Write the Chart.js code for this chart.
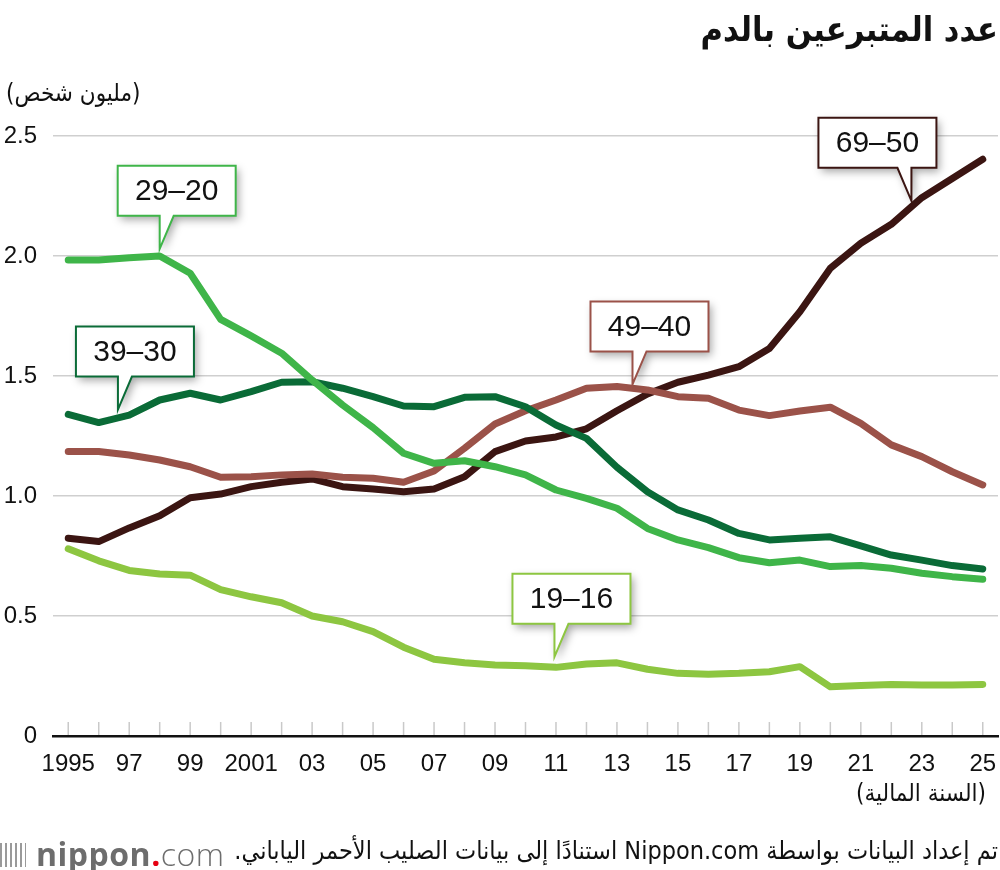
<!DOCTYPE html>
<html lang="ar">
<head>
    <meta charset="UTF-8">
    <title>عدد المتبرعين بالدم</title>
    <style>
        body {
            margin: 0;
            padding: 0;
            background: #fff;
            width: 1000px;
            height: 870px;
            position: relative;
            overflow: hidden;
            font-family: "DejaVu Sans Condensed", "DejaVu Sans", sans-serif;
            color: #111;
        }
        #chart {
            position: absolute;
            left: 0;
            top: 0;
        }
        .txt {
            position: absolute;
            white-space: nowrap;
        }
        .title {
            right: 2px;
            top: 9px;
            font-size: 34px;
            font-weight: bold;
        }
        .unit {
            left: 6px;
            top: 79px;
            font-size: 24px;
        }
        .xtitle {
            right: 14px;
            top: 779px;
            font-size: 24px;
        }
        .source {
            right: 2px;
            top: 836px;
            font-size: 25px;
        }
        .logo {
            left: 0;
            top: 832px;
            font-family: "Open Sans", "Liberation Sans", sans-serif;
            font-size: 32px;
            color: #6d6d6d;
            letter-spacing: 0.5px;
        }
        .logo b { font-weight: 700; }
        .logo .dot { color: #e60012; font-weight: 700; }
        .logo .com { font-weight: 300; }
        .bars {
            display: inline-block;
            width: 26px;
            height: 24px;
            margin-right: 10px;
            background: repeating-linear-gradient(90deg, #9a9a9a 0 2px, transparent 2px 5px);
            vertical-align: -1px;
        }
    </style>
    <script src="https://cdn.jsdelivr.net/npm/chart.js"></script>
</head>
<body>
<canvas id="chart" width="1000" height="870"></canvas>
<div class="txt title" dir="rtl">عدد المتبرعين بالدم</div>
<div class="txt unit" dir="rtl">(مليون شخص)</div>
<div class="txt xtitle" dir="rtl">(السنة المالية)</div>
<div class="txt source" dir="rtl">تم إعداد البيانات بواسطة Nippon.com استنادًا إلى بيانات الصليب الأحمر الياباني.</div>
<div class="txt logo"><span class="bars"></span><b>nippon</b><span class="dot">.</span><span class="com">com</span></div>
<script>
    // السنوات المالية
    const years = ['1995','1996','1997','1998','1999','2000','2001','2002','2003','2004','2005','2006','2007','2008','2009','2010',
                   '2011','2012','2013','2014','2015','2016','2017','2018','2019','2020','2021','2022','2023','2024','2025'];
    const yearLabels = ['1995','','97','','99','','2001','','03','','05','','07','','09','','11','','13','','15','','17','','19','','21','','23','','25'];
    const yTicks = [0, 0.5, 1.0, 1.5, 2.0, 2.5];

    // مليون شخص
    const age16_19 = [0.78,0.73,0.69,0.675,0.67,0.61,0.58,0.555,0.50,0.476,0.435,0.37,0.32,0.305,0.296,0.293,
                      0.286,0.30,0.305,0.278,0.261,0.257,0.261,0.268,0.289,0.205,0.21,0.215,0.213,0.213,0.215];
    const age20_29 = [1.983,1.983,1.993,2.0,1.928,1.736,1.667,1.595,1.483,1.379,1.285,1.178,1.136,1.147,1.122,1.088,
                      1.025,0.99,0.949,0.865,0.817,0.785,0.743,0.722,0.733,0.706,0.71,0.699,0.678,0.664,0.653];
    const age30_39 = [1.34,1.306,1.337,1.4,1.428,1.4,1.435,1.474,1.476,1.449,1.414,1.375,1.372,1.411,1.414,1.372,
                      1.296,1.24,1.12,1.018,0.942,0.9,0.844,0.817,0.824,0.83,0.792,0.754,0.733,0.71,0.696];
    const age40_49 = [1.185,1.185,1.171,1.15,1.122,1.078,1.08,1.088,1.092,1.078,1.074,1.057,1.104,1.199,1.3,1.355,
                      1.4,1.449,1.456,1.442,1.414,1.407,1.358,1.335,1.354,1.37,1.303,1.213,1.164,1.101,1.046];
    const age50_69 = [0.824,0.81,0.867,0.918,0.993,1.008,1.039,1.057,1.071,1.039,1.029,1.018,1.029,1.08,1.185,1.229,
                      1.246,1.28,1.355,1.425,1.474,1.504,1.539,1.615,1.768,1.949,2.053,2.132,2.243,2.323,2.403];

    const seriesNames  = ['19–16', '29–20', '39–30', '49–40', '69–50'];
    const seriesColors = ['#8dc641', '#3fb549', '#0a6b37', '#9b5249', '#3b1512'];

    // مكان كل بطاقة: موضع السنة (قد يكون كسريًا) والقيمة التي يشير إليها السهم
    const calloutIndex = [15.95, 3, 1.63, 18.51, 27.66];
    const calloutValue = [0.33, 2.03, 1.36, 1.465, 2.23];
    const calloutSide  = ['left', 'left', 'left', 'left', 'right'];

    // علامات السنوات الصغيرة فوق المحور
    const yearTicks = {
        id: 'yearTicks',
        afterDraw(chart) {
            const ctx = chart.ctx, x = chart.scales.x, bottom = chart.chartArea.bottom;
            ctx.save();
            ctx.strokeStyle = '#c9c9c9';
            ctx.lineWidth = 1.5;
            years.forEach((y, i) => {
                const px = x.getPixelForValue(i);
                ctx.beginPath();
                ctx.moveTo(px, bottom - 14);
                ctx.lineTo(px, bottom - 1);
                ctx.stroke();
            });
            ctx.restore();
        }
    };

    // بطاقات أسماء الفئات العمرية
    const callouts = {
        id: 'callouts',
        afterDatasetsDraw(chart) {
            const ctx = chart.ctx, xs = chart.scales.x, ys = chart.scales.y;
            const w = 118, h = 50, stem = 33, base = 14;
            seriesNames.forEach((name, i) => {
                const tx = xs.getPixelForValue(calloutIndex[i]);
                const ty = ys.getPixelForValue(calloutValue[i]);
                const bottom = ty - stem, top = bottom - h;
                let left, b1, b2;
                if (calloutSide[i] === 'left') {
                    left = tx - 42; b1 = tx; b2 = tx + base;
                } else {
                    left = tx - 93; b1 = tx - base; b2 = tx;
                }
                const right = left + w;
                ctx.save();
                ctx.beginPath();
                ctx.moveTo(left, top);
                ctx.lineTo(right, top);
                ctx.lineTo(right, bottom);
                ctx.lineTo(b2, bottom);
                ctx.lineTo(tx, ty);
                ctx.lineTo(b1, bottom);
                ctx.lineTo(left, bottom);
                ctx.closePath();
                ctx.shadowColor = 'rgba(0,0,0,0.35)';
                ctx.shadowBlur = 8;
                ctx.shadowOffsetX = 3;
                ctx.shadowOffsetY = 4;
                ctx.fillStyle = '#fff';
                ctx.fill();
                ctx.shadowColor = 'transparent';
                ctx.strokeStyle = seriesColors[i];
                ctx.lineWidth = 2;
                ctx.stroke();
                ctx.fillStyle = '#111';
                ctx.font = '30px "Liberation Sans", Arial, sans-serif';
                ctx.textAlign = 'center';
                ctx.textBaseline = 'middle';
                ctx.fillText(name, left + w / 2, top + h / 2 + 1);
                ctx.restore();
            });
        }
    };

    const allSeries = [age16_19, age20_29, age30_39, age40_49, age50_69];

    new Chart(document.getElementById('chart'), {
        type: 'line',
        data: {
            labels: years,
            datasets: allSeries.map((vals, i) => ({
                label: seriesNames[i],
                data: vals,
                borderColor: seriesColors[i],
                borderWidth: 7,
                borderCapStyle: 'round',
                borderJoinStyle: 'round',
                pointRadius: 0,
                tension: 0,
                fill: false
            }))
        },
        options: {
            responsive: false,
            animation: false,
            layout: { padding: { top: 136, right: 2, left: 0, bottom: 0 } },
            plugins: {
                legend: { display: false },
                tooltip: { enabled: false }
            },
            scales: {
                x: {
                    offset: true,
                    grid: { display: true, drawOnChartArea: false, drawTicks: false },
                    border: { display: true, color: '#111', width: 2.5 },
                    ticks: {
                        autoSkip: false,
                        maxRotation: 0,
                        padding: 14,
                        color: '#111',
                        font: { family: '"Liberation Sans", Arial, sans-serif', size: 24 },
                        callback: (v, i) => yearLabels[i]
                    },
                    afterFit: s => { s.height = 134; s.paddingLeft = 0; s.paddingRight = 0; }
                },
                y: {
                    min: 0,
                    max: 2.5,
                    afterBuildTicks: s => { s.ticks = yTicks.map(v => ({ value: v })); },
                    grid: { color: '#cfcfcf', lineWidth: 1.5, drawTicks: false },
                    border: { display: false },
                    ticks: {
                        padding: 16,
                        color: '#111',
                        font: { family: '"Liberation Sans", Arial, sans-serif', size: 24 },
                        callback: v => v === 0 ? '0' : v.toFixed(1)
                    },
                    afterFit: s => { s.width = 53; s.paddingTop = 0; s.paddingBottom = 0; }
                }
            }
        },
        plugins: [yearTicks, callouts]
    });
</script>
</body>
</html>
